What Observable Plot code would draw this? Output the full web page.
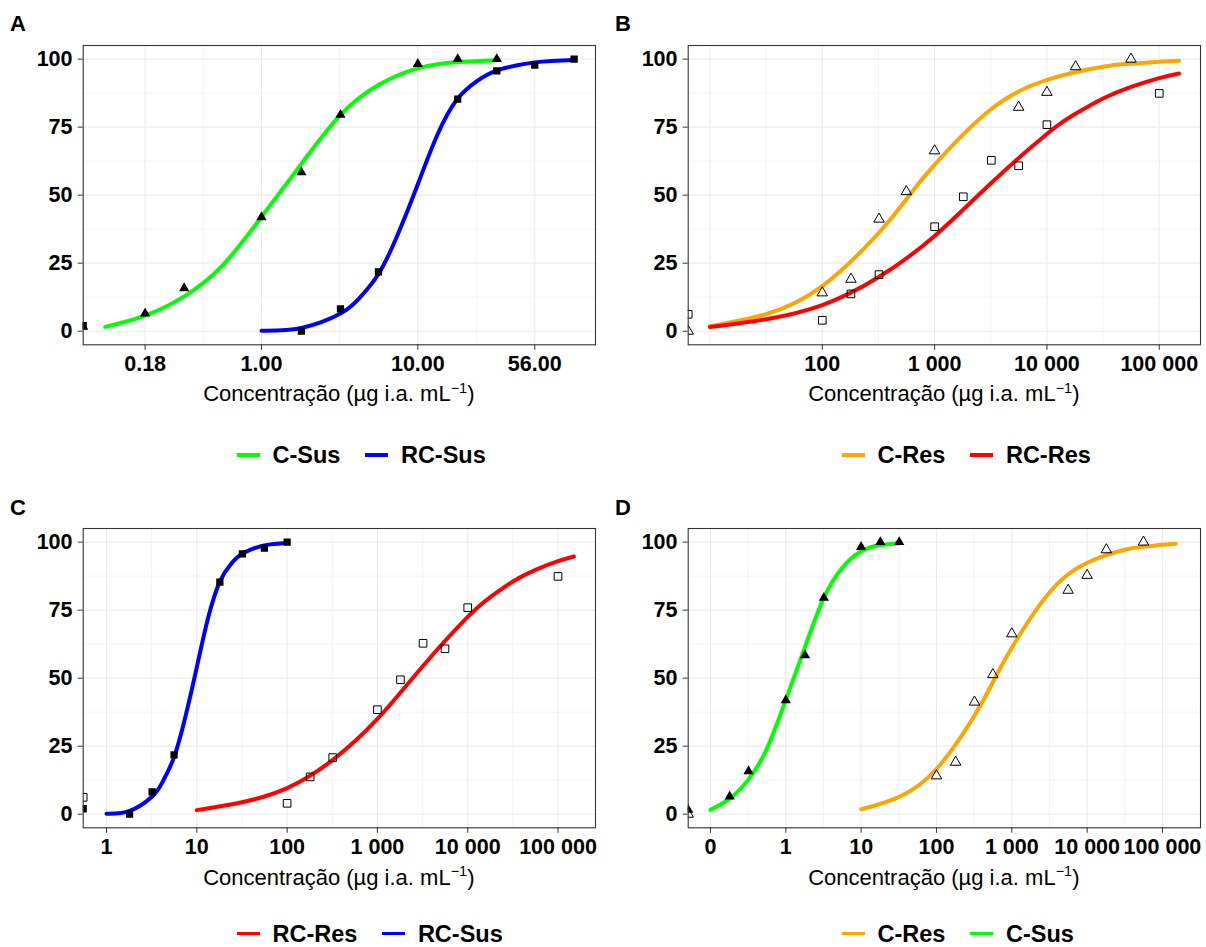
<!DOCTYPE html>
<html>
<head>
<meta charset="utf-8">
<script src="https://cdn.jsdelivr.net/npm/d3@7"></script>
<script src="https://cdn.jsdelivr.net/npm/@observablehq/plot@0.6"></script>
<style>
  body { margin: 0; background: #fff; }
  #page { position: relative; width: 1206px; height: 947px; overflow: hidden;
          font-family: "Liberation Sans", Arial, sans-serif; color: #000; }
  .panel { position: absolute; width: 603px; height: 463px; }
  .panel svg { position: absolute; left: 0; top: 0; }
  .tag { position: absolute; left: 10px; top: 13.4px; font-weight: bold; font-size: 22px; line-height: 22px; }
  .xtitle { position: absolute; left: 82.7px; width: 512.3px; top: 383.4px; text-align: center;
            font-size: 22px; line-height: 22px; white-space: nowrap; }
  .xtitle .sup { position: relative; top: -8.5px; font-size: 14.5px; }
  .legend { position: absolute; left: 237px; top: 446px; height: 18px; display: flex; align-items: center; }
  .legend .key { width: 23px; height: 3.2px; margin-right: 12.5px; }
  .legend .lab { font-weight: bold; font-size: 23.5px; line-height: 18px; margin-right: 25px; white-space: nowrap; }
</style>
</head>
<body>
<div id="page"></div>
<script>
// Mortality (%) by concentration (µg i.a. mL⁻¹); dose 0 is the untreated control
const csusDose  = [0, 0.18, 0.32, 1, 1.8, 3.2, 10, 18, 32];
const csusResp  = [1.6, 6.5, 15.8, 41.9, 58.4, 79.5, 98.2, 100, 100];
const rcsusDose = [0, 1.8, 3.2, 5.6, 18, 32, 56, 100];
const rcsusResp = [2, 0, 8.2, 21.8, 85.3, 95.7, 97.8, 100];
const cresDose  = [0, 100, 180, 320, 560, 1000, 5600, 10000, 18000, 56000];
const cresResp  = [0, 14.1, 19.1, 41.2, 51.3, 66.3, 82.3, 87.8, 97.2, 100];
const rcresDose = [0, 100, 180, 320, 1000, 1800, 3200, 5600, 10000, 100000];
const rcresResp = [6.2, 4.0, 13.7, 20.8, 38.4, 49.4, 62.8, 60.8, 75.9, 87.4];

// Fitted dose–response curves
const csusFitDose  = [0.1, 0.18, 0.32, 0.56, 1, 1.8, 3.2, 5.6, 10, 18, 32];
const csusFit      = [1.6, 5.7, 12.8, 24, 42, 61.5, 79.5, 90.5, 96.6, 98.9, 99.6];
const rcsusFitDose = [1, 1.8, 3.2, 4.2, 5.6, 7.5, 10, 13.3, 18, 24, 32, 56, 100];
const rcsusFit     = [0.2, 1.2, 6.5, 12, 21, 36, 54, 72, 85.5, 92, 95.8, 98.8, 99.7];
const cresFitDose  = [10, 31.6, 100, 316, 560, 1000, 3160, 10000, 31600, 56200, 100000, 150000];
const cresFit      = [1.8, 6.3, 16.6, 36, 48.5, 61.2, 81.5, 92.4, 97.2, 98.3, 99, 99.4];
const rcresFitDose = [10, 31.6, 100, 316, 1000, 3160, 10000, 17800, 31600, 56200, 100000, 150000];
const rcresFit     = [1.5, 4.4, 9.6, 19.8, 35, 54.3, 72.5, 79.8, 85.5, 89.8, 93, 94.7];

// Axis breaks
const yTicks = [0, 25, 50, 75, 100];
const yMinor = [12.5, 37.5, 62.5, 87.5];
const ticksA = [0.18, 1, 10, 56];
const labelsA = ["0.18", "1.00", "10.00", "56.00"];
const minorA = [0.424, 3.16, 23.7];
const ticksB = [100, 1000, 10000, 100000];
const labelsB = ["100", "1 000", "10 000", "100 000"];
const gridB = [10, 100, 1000, 10000, 100000];
const minorB = [31.6, 316, 3162, 31623];
const ticksC = [1, 10, 100, 1000, 10000, 100000];
const labelsC = ["1", "10", "100", "1 000", "10 000", "100 000"];
const minorC = [3.16, 31.6, 316, 3162, 31623];
const ticksD = [0.1, 1, 10, 100, 1000, 10000, 100000];
const labelsD = ["0", "1", "10", "100", "1 000", "10 000", "100 000"];
const minorD = [0.316, 3.16, 31.6, 316, 3162, 31623];

const rows = (xs, ys) => xs.map((x, i) => ({x, y: ys[i]}));

const series = {
  "C-Sus":  {color: "#00ff00", symbol: "triangle", filled: true,  r: 3.8,
             pts: rows(csusDose, csusResp), fit: rows(csusFitDose, csusFit)},
  "RC-Sus": {color: "#0000ff", symbol: "square",   filled: true,  r: 4.1,
             pts: rows(rcsusDose, rcsusResp), fit: rows(rcsusFitDose, rcsusFit)},
  "C-Res":  {color: "#ffa500", symbol: "triangle", filled: false, r: 3.9,
             pts: rows(cresDose, cresResp), fit: rows(cresFitDose, cresFit)},
  "RC-Res": {color: "#ff0000", symbol: "square",   filled: false, r: 4.3,
             pts: rows(rcresDose, rcresResp), fit: rows(rcresFitDose, rcresFit)}
};

const panels = [
  {tag: "A", ox: 0,   oy: 0,     legendTop: 446,   domain: [0.0723, 137],   ticks: ticksA, labels: labelsA, grid: ticksA, minor: minorA, names: ["C-Sus", "RC-Sus"]},
  {tag: "B", ox: 605, oy: 0,     legendTop: 446,   domain: [6.4, 233000],   ticks: ticksB, labels: labelsB, grid: gridB,  minor: minorB, names: ["C-Res", "RC-Res"]},
  {tag: "C", ox: 0,   oy: 483.3, legendTop: 441.5, domain: [0.552, 260000], ticks: ticksC, labels: labelsC, grid: ticksC, minor: minorC, names: ["RC-Res", "RC-Sus"]},
  {tag: "D", ox: 605, oy: 483.3, legendTop: 441.5, domain: [0.0506, 320000],ticks: ticksD, labels: labelsD, grid: ticksD, minor: minorD, names: ["C-Res", "C-Sus"]}
];

const page = document.getElementById("page");
const gridColor = "#ebebeb";
const tickFont = 21.5;

for (const p of panels) {
  const div = document.createElement("div");
  div.className = "panel";
  div.style.left = p.ox + "px";
  div.style.top = p.oy + "px";
  page.appendChild(div);

  const xmin = p.domain[0];
  const labelOf = new Map(p.ticks.map((t, i) => [t, p.labels[i]]));

  const marks = [
    Plot.gridX(p.minor, {stroke: gridColor, strokeOpacity: 1, strokeWidth: 0.6}),
    Plot.gridY(yMinor, {stroke: gridColor, strokeOpacity: 1, strokeWidth: 0.6}),
    Plot.gridX(p.grid, {stroke: gridColor, strokeOpacity: 1, strokeWidth: 1.1}),
    Plot.gridY(yTicks, {stroke: gridColor, strokeOpacity: 1, strokeWidth: 1.1})
  ];
  for (const name of p.names) {
    const s = series[name];
    marks.push(Plot.line(s.fit, {x: "x", y: "y", stroke: s.color, strokeWidth: 4, curve: "natural"}));
  }
  for (const name of p.names) {
    const s = series[name];
    // the control (dose 0) sits on the left edge of the log axis
    marks.push(Plot.dot(s.pts, {
      x: d => d.x === 0 ? xmin : d.x, y: "y",
      symbol: s.symbol, r: s.r,
      fill: s.filled ? "black" : "none",
      stroke: s.filled ? "none" : "black",
      strokeWidth: 1, clip: true
    }));
  }
  marks.push(
    Plot.axisX(p.ticks, {anchor: "bottom", label: null, tickFormat: () => "",
      tickSize: 5.5, stroke: "#333"}),
    Plot.text(p.ticks, {x: d => d, text: d => labelOf.get(d), frameAnchor: "bottom",
      lineAnchor: "top", dy: 11.1, fontSize: tickFont, fontWeight: "bold", fill: "#000"}),
    Plot.axisY(yTicks, {anchor: "left", label: null, tickSize: 5, tickPadding: 5.7,
      fontSize: tickFont, fontWeight: "bold", color: "#000", stroke: "#333"}),
    Plot.frame({stroke: "#333", strokeWidth: 1.1})
  );

  const svg = Plot.plot({
    width: 603, height: 380,
    marginLeft: 82.7, marginRight: 8, marginTop: 45, marginBottom: 35.7,
    x: {type: "log", domain: p.domain},
    y: {domain: [-5, 105]},
    style: {fontFamily: "'Liberation Sans', Arial, sans-serif", background: "transparent", overflow: "visible", color: "#000"},
    marks
  });
  div.appendChild(svg);

  const tag = document.createElement("div");
  tag.className = "tag";
  tag.textContent = p.tag;
  div.appendChild(tag);

  const title = document.createElement("div");
  title.className = "xtitle";
  title.innerHTML = "Concentração (µg i.a. mL<span class=\"sup\">−1</span>)";
  div.appendChild(title);

  const legend = document.createElement("div");
  legend.className = "legend";
  legend.style.top = p.legendTop + "px";
  for (const name of p.names) {
    const key = document.createElement("span");
    key.className = "key";
    key.style.background = series[name].color;
    const lab = document.createElement("span");
    lab.className = "lab";
    lab.textContent = name;
    legend.appendChild(key);
    legend.appendChild(lab);
  }
  div.appendChild(legend);
}
</script>
</body>
</html>
